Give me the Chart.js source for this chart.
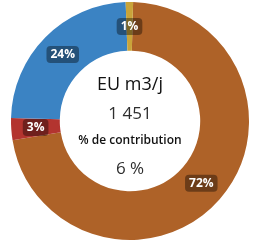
<!DOCTYPE html>
<html>
<head>
<meta charset="utf-8">
<script src="https://cdn.jsdelivr.net/npm/chart.js@4"></script>
<style>
  html, body { margin: 0; padding: 0; background: #fff; }
  #wrap { width: 254px; height: 244px; position: relative; }
</style>
</head>
<body>
<div id="wrap"><canvas id="myChart"></canvas></div>
<script>
const labels = ['Source A', 'Source B', 'Source C', 'Source D'];
const values = [72, 3, 24, 1];
const colors = ['#ae6228', '#b3342f', '#3b83c3', '#c9a43a'];
const centerLines = ['EU m3/j', '1 451', '% de contribution', '6 %'];

// draws the % boxes on each slice
const sliceLabels = {
    id: 'sliceLabels',
    afterDatasetsDraw(chart) {
        const ctx = chart.ctx;
        const meta = chart.getDatasetMeta(0);
        const total = values.reduce((a, b) => a + b, 0);
        ctx.save();
        ctx.font = 'bold 12px "Open Sans"';
        ctx.textAlign = 'center';
        ctx.textBaseline = 'middle';
        meta.data.forEach((arc, i) => {
            const pos = arc.tooltipPosition();
            const txt = Math.round(values[i] / total * 100) + '%';
            const w = ctx.measureText(txt).width + 8;
            const h = 17;
            ctx.fillStyle = 'rgba(0,0,0,0.38)';
            ctx.beginPath();
            ctx.roundRect(pos.x - w / 2, pos.y - h / 2, w, h, 4);
            ctx.fill();
            ctx.fillStyle = '#fff';
            ctx.fillText(txt, pos.x, pos.y + 0.5);
        });
        ctx.restore();
    }
};

const centerText = {
    id: 'centerText',
    afterDraw(chart) {
        const ctx = chart.ctx;
        const arc = chart.getDatasetMeta(0).data[0];
        const cx = arc.x, cy = arc.y;
        ctx.save();
        ctx.textAlign = 'center';
        ctx.textBaseline = 'middle';
        ctx.fillStyle = '#111';
        ctx.font = '500 18px "Open Sans"';
        ctx.fillText(centerLines[0], cx, cy - 36);
        ctx.fillStyle = '#2e2e2e';
        ctx.font = '17px "Open Sans"';
        ctx.fillText(centerLines[1], cx, cy - 7);
        ctx.fillStyle = '#111';
        ctx.font = '600 12px "Open Sans"';
        ctx.fillText(centerLines[2], cx, cy + 20);
        ctx.fillStyle = '#2e2e2e';
        ctx.font = '17px "Open Sans"';
        ctx.fillText(centerLines[3], cx, cy + 48);
        ctx.restore();
    }
};

const ctx = document.getElementById('myChart').getContext('2d');
const myChart = new Chart(ctx, {
    type: 'doughnut',
    data: {
        labels: labels,
        datasets: [{
            data: values,
            backgroundColor: colors,
            borderWidth: 0,
            hoverOffset: 0
        }]
    },
    options: {
        responsive: true,
        maintainAspectRatio: false,
        animation: false,
        cutout: '59%',
        rotation: 1.5,
        layout: { padding: { left: 11, right: 5, top: 2, bottom: 4 } },
        plugins: {
            legend: { display: false },
            tooltip: { enabled: false }
        }
    },
    plugins: [sliceLabels, centerText]
});
</script>
</body>
</html>
